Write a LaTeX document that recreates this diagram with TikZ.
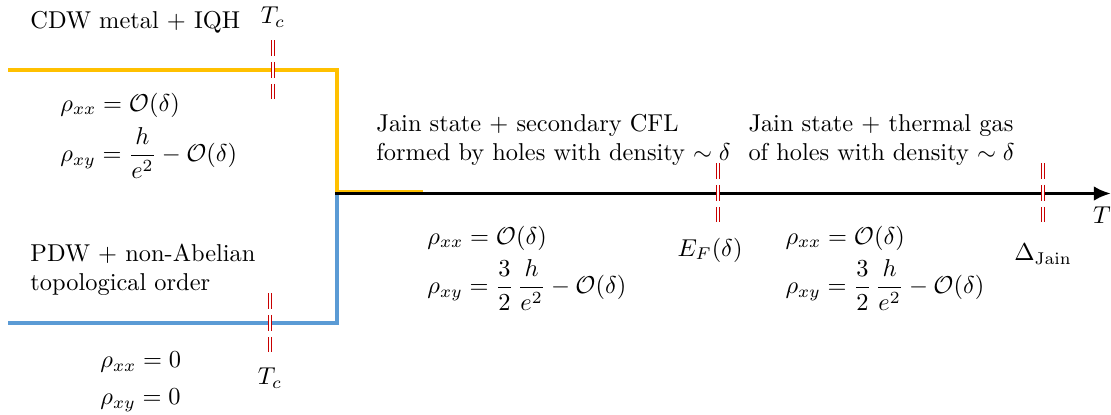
\documentclass[tikz,border=0pt]{standalone}
\usepackage{amsmath}
\usepackage{xcolor}
\usepackage{tikz}
\usetikzlibrary{arrows.meta, positioning}

\definecolor{cdwyellow}{RGB}{255,192,0}
\definecolor{pdwblue}{RGB}{91,155,213}
\definecolor{tickred}{RGB}{200,0,0}

\begin{document}
\begin{tikzpicture}[
  x=0.41pt, y=-0.41pt,
  >={Latex[length=7pt,width=6pt]},
  phase/.style={line width=1.6pt},
  crossover/.style={draw=tickred, line width=0.6pt, double=white, double distance=0.8pt, dash pattern=on 6.5pt off 2.5pt},
  lbl/.style={inner sep=0pt, anchor=west},
  txt/.style={inner sep=0pt, align=left, anchor=west}]
\useasboundingbox (0,0) rectangle (1111,414);
% corners of the two low-T phases
\coordinate (cdw0) at (8,70);
\coordinate (cdw1) at (337,70);
\coordinate (cdw2) at (337,192);
\coordinate (cdw3) at (423,192);
\coordinate (pdw0) at (8,323);
\coordinate (pdw1) at (337,323);
\coordinate (pdw2) at (337,195);
\coordinate (origin) at (335,193.5);
\coordinate (tip) at (1111,193.5);
\draw[phase, cdwyellow] (cdw0) -- (cdw1) -- (cdw2) -- (cdw3);
\draw[phase, pdwblue] (pdw0) -- (pdw1) -- (pdw2);
\draw[phase, ->] (origin) -- (tip);
% crossover marks
\coordinate (tca) at (273,40);  \coordinate (tcb) at (273,99);
\coordinate (efa) at (718,163); \coordinate (efb) at (718,222);
\coordinate (dja) at (1043,163); \coordinate (djb) at (1043,222);
\coordinate (tcc) at (270,293); \coordinate (tcd) at (270,352);
\draw[crossover] (tca) -- (tcb);
\draw[crossover] (efa) -- (efb);
\draw[crossover] (dja) -- (djb);
\draw[crossover] (tcc) -- (tcd);
\node (tctop) at (273,17) {$T_c$};
\node (tcbot) at (270,378) {$T_c$};
\node (ef) at (710,250) {$E_F(\delta)$};
\node (dj) at (1043,254) {$\Delta_{\mathrm{Jain}}$};
\node (taxis) at (1102,215) {$T$};
% low-T phases
\node[lbl] (cdw) at (30,22) {CDW metal + IQH};
\node[lbl] (cdwxx) at (60,105) {$\rho_{xx} = \mathcal{O}(\delta)$};
\node[lbl] (cdwxy) at (60,153) {$\rho_{xy} = \dfrac{h}{e^2} - \mathcal{O}(\delta)$};
\node[txt] (pdw) at (30,270) {PDW + non-Abelian\\topological order};
\node[lbl] (pdwxx) at (100,362) {$\rho_{xx} = 0$};
\node[lbl] (pdwxy) at (100,400) {$\rho_{xy} = 0$};
% intermediate and high-T regimes
\node[txt] (cfl) at (376,140) {Jain state + secondary CFL\\formed by holes with density $\sim\delta$};
\node[lbl] (cflxx) at (427,238) {$\rho_{xx} = \mathcal{O}(\delta)$};
\node[lbl] (cflxy) at (427,285) {$\rho_{xy} = \dfrac{3}{2}\,\dfrac{h}{e^2} - \mathcal{O}(\delta)$};
\node[txt] (gas) at (748,140) {Jain state + thermal gas\\of holes with density $\sim\delta$};
\node[lbl] (gasxx) at (785,238) {$\rho_{xx} = \mathcal{O}(\delta)$};
\node[lbl] (gasxy) at (785,285) {$\rho_{xy} = \dfrac{3}{2}\,\dfrac{h}{e^2} - \mathcal{O}(\delta)$};
\end{tikzpicture}
\end{document}
